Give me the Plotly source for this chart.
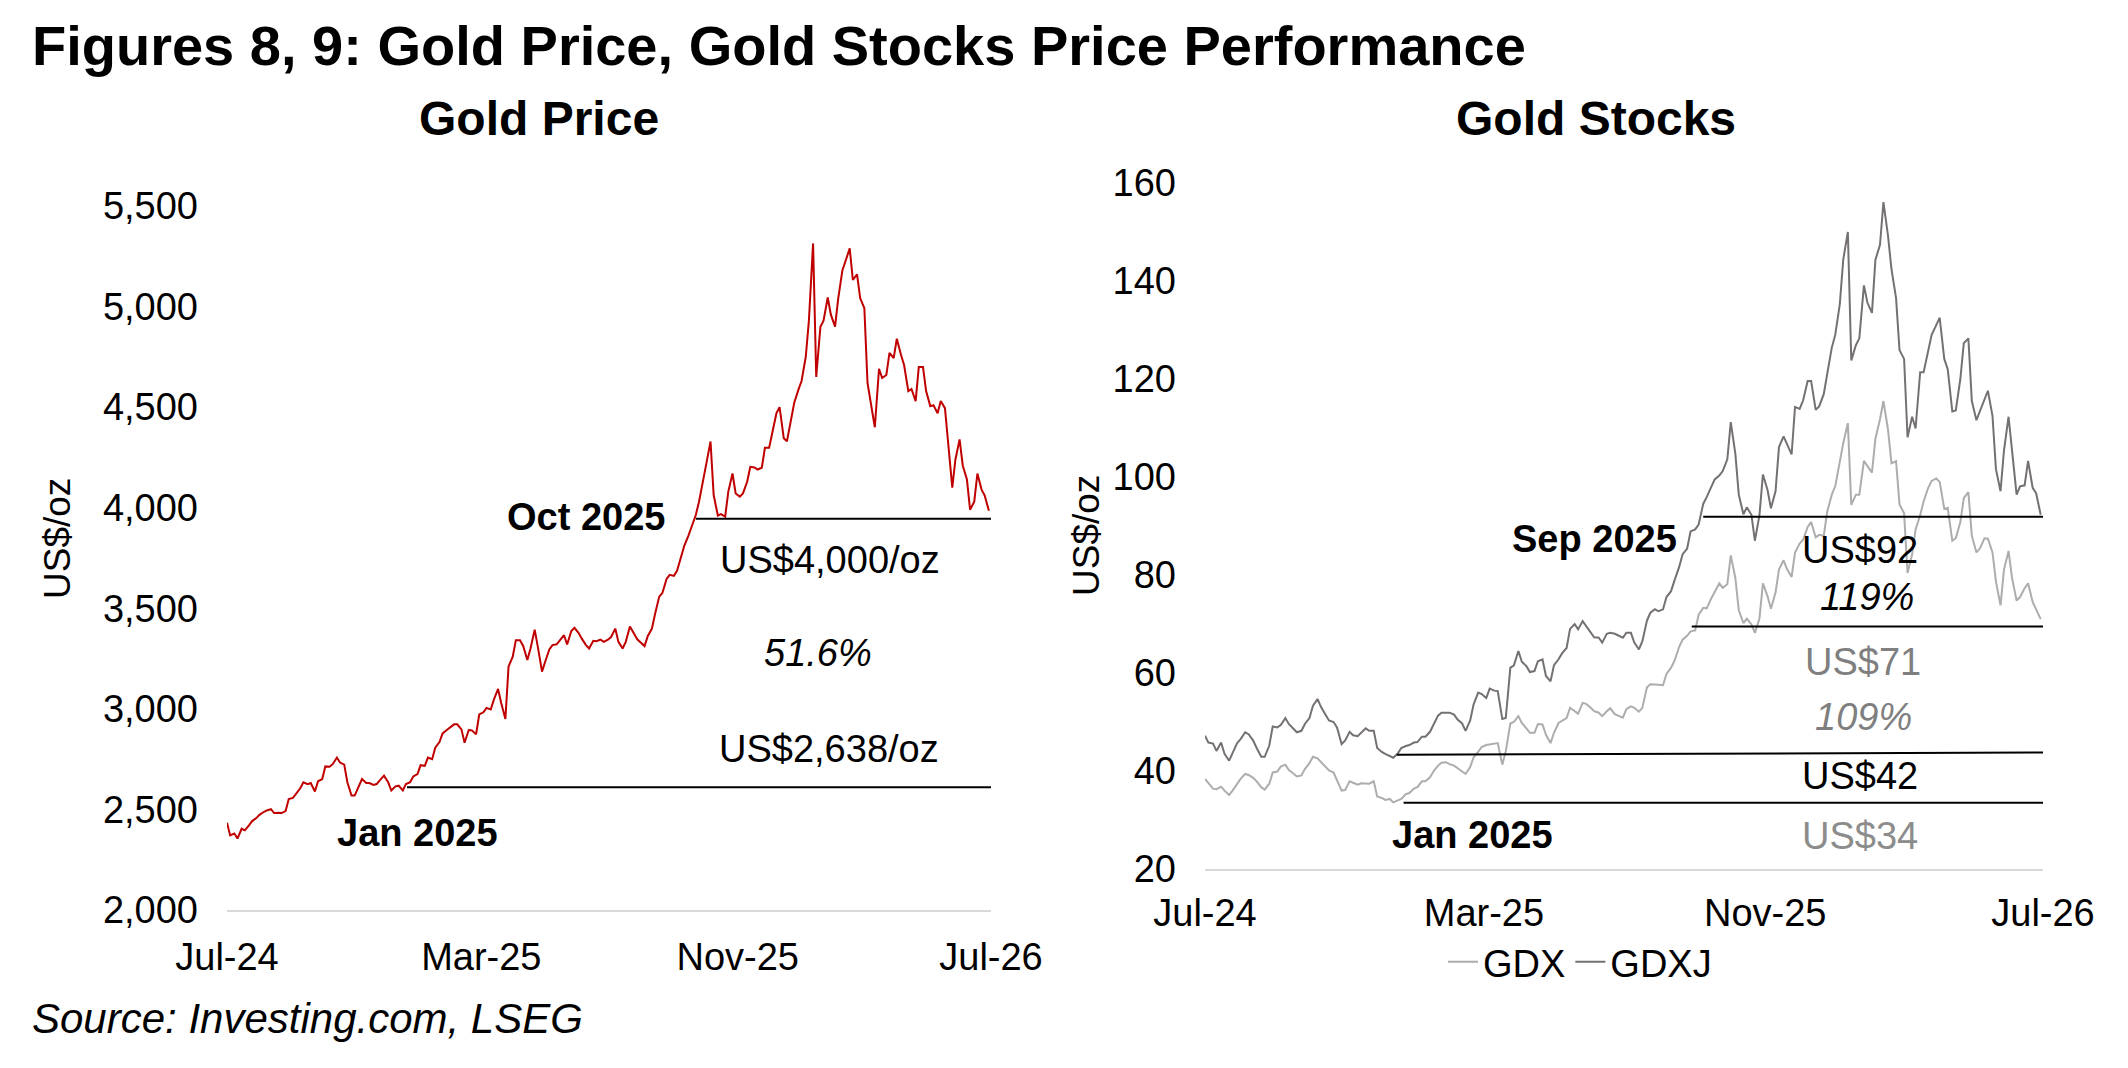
import plotly.graph_objects as go
import pandas as pd

W, H = 2128, 1068
def fx(p): return p / W
def fy(p): return 1 - p / H

FONT = "Liberation Sans, Arial, sans-serif"

# ---- data: twice-weekly readings (Mon / Thu) ----
first_monday = "2024-07-15"
mondays = pd.date_range(first_monday, periods=105, freq="7D")
thursdays = mondays + pd.Timedelta(days=3)
date_grid = sorted(list(mondays) + list(thursdays))

gold = [2434, 2371, 2380, 2355, 2404, 2396, 2421, 2442, 2457, 2473,
        2487, 2495, 2501, 2482, 2483, 2482, 2492, 2552, 2557, 2577,
        2605, 2635, 2626, 2631, 2589, 2640, 2651, 2714, 2712, 2725,
        2758, 2733, 2723, 2635, 2569, 2569, 2615, 2651, 2631, 2631,
        2622, 2626, 2651, 2668, 2635, 2594, 2615, 2618, 2594, 2626,
        2635, 2664, 2676, 2720, 2717, 2758, 2750, 2807, 2835, 2878,
        2895, 2906, 2923, 2923, 2898, 2832, 2895, 2893, 2873, 2972,
        2983, 3005, 2997, 3046, 3099, 3029, 2950, 3210, 3259, 3341,
        3341, 3313, 3243, 3300, 3394, 3308, 3185, 3234, 3295, 3317,
        3321, 3341, 3366, 3320, 3387, 3403, 3377, 3349, 3317, 3300,
        3338, 3336, 3344, 3333, 3344, 3357, 3399, 3333, 3300, 3333,
        3410, 3382, 3346, 3331, 3312, 3361, 3399, 3472, 3558, 3576,
        3646, 3666, 3661, 3686, 3755, 3812, 3863, 3904, 3965, 4030,
        4129, 4219, 4329, 4063, 3961, 3968, 3956, 4080, 4170, 4071,
        4055, 4071, 4129, 4203, 4200, 4190, 4199, 4298, 4298, 4370,
        4470, 4500, 4345, 4330, 4440, 4522, 4587, 4630, 4750, 4930,
        5314, 4650, 4900, 4930, 5045, 4960, 4900, 5040, 5180, 5230,
        5289, 5132, 5160, 5042, 4992, 4620, 4480, 4400, 4690, 4645,
        4660, 4770, 4744, 4840, 4760, 4708, 4580, 4590, 4530, 4700,
        4700, 4580, 4505, 4510, 4470, 4530, 4495, 4340, 4100, 4240,
        4340, 4210, 4140, 3990, 4030, 4170, 4090, 4060, 3985]

gdxj = [47.2, 45.8, 45.6, 44.1, 45.8, 43.5, 42.1, 43.5, 45.7, 46.5,
        47.9, 47.5, 46.2, 44.7, 42.9, 42.9, 45.2, 49.1, 48.9, 49.4,
        50.8, 49.6, 48.6, 47.9, 48.2, 49.6, 50.8, 53.3, 54.7, 53.1,
        51.5, 50.3, 50.0, 48.9, 45.5, 46.2, 48.0, 47.3, 47.1, 47.8,
        48.7, 48.2, 48.2, 44.7, 43.9, 43.5, 43.1, 42.7, 43.6, 44.7,
        45.1, 45.3, 45.8, 45.9, 47.0, 47.0, 48.0, 49.4, 51.3, 51.9,
        51.9, 51.9, 51.5, 50.5, 49.7, 48.2, 50.3, 53.6, 56.0, 55.7,
        54.9, 56.8, 56.4, 56.3, 50.6, 50.8, 61.1, 61.5, 64.5, 62.3,
        61.4, 60.2, 60.4, 62.4, 62.8, 59.4, 58.3, 61.6, 62.8, 64.0,
        65.1, 69.0, 70.0, 68.9, 70.6, 69.6, 68.1, 67.3, 67.2, 66.2,
        68.0, 68.2, 68.0, 67.7, 67.2, 68.2, 68.2, 66.2, 64.8, 66.5,
        70.7, 72.3, 73.0, 72.6, 73.0, 75.5, 76.7, 78.9, 81.6, 84.2,
        85.4, 88.9, 89.3, 90.3, 94.5, 95.9, 98.0, 99.5, 100.3, 101.2,
        103.6, 111.2, 104.7, 96.4, 92.4, 93.8, 92.3, 87.0, 92.2, 100.5,
        97.4, 93.6, 97.1, 106.1, 108.3, 106.7, 104.6, 114.3, 113.9, 115.6,
        119.6, 119.6, 113.7, 114.4, 116.9, 121.0, 126.4, 129.0, 135.3, 144.4,
        150.0, 123.8, 126.9, 128.3, 139.1, 135.6, 133.5, 144.3, 147.4, 156.1,
        149.2, 142.4, 136.5, 125.9, 124.1, 108.1, 112.3, 109.9, 121.4, 121.4,
        125.9, 129.0, 131.0, 132.5, 124.1, 122.0, 113.4, 113.6, 120.0, 127.3,
        128.3, 115.5, 111.6, 113.4, 116.2, 117.6, 112.5, 101.6, 97.1, 105.4,
        112.3, 105.1, 96.4, 98.1, 98.3, 103.3, 97.8, 96.7, 92.3]

gdx = [38.4, 37.6, 36.4, 36.3, 36.8, 36.0, 35.1, 36.0, 37.4, 38.4,
       39.4, 39.2, 38.6, 37.9, 36.7, 36.2, 37.4, 39.7, 39.9, 40.9,
       41.3, 40.2, 39.5, 38.9, 39.1, 40.4, 41.6, 42.9, 42.6, 41.8,
       40.9, 40.1, 39.7, 38.0, 36.0, 36.1, 37.9, 37.6, 37.2, 37.5,
       37.5, 37.4, 37.9, 34.8, 34.5, 34.1, 34.3, 33.6, 34.0, 34.3,
       35.3, 35.5, 36.4, 36.7, 37.9, 37.9, 38.7, 39.9, 41.1, 41.7,
       41.8, 41.4, 41.1, 40.6, 39.9, 39.4, 40.8, 42.8, 43.9, 44.9,
       45.3, 45.4, 45.5, 45.7, 41.3, 44.0, 49.7, 50.0, 51.2, 49.8,
       48.7, 47.8, 47.8, 49.6, 49.5, 47.4, 45.7, 47.8, 49.8, 50.3,
       50.8, 52.9, 52.2, 51.7, 53.9, 53.7, 52.9, 52.2, 51.9, 51.2,
       52.2, 52.8, 51.6, 51.3, 50.9, 52.6, 53.2, 52.9, 52.1, 52.9,
       57.1, 57.7, 57.7, 57.6, 57.5, 59.8, 61.1, 62.5, 65.3, 66.8,
       67.6, 68.5, 68.7, 71.9, 73.3, 73.2, 75.2, 76.6, 78.3, 77.4,
       78.1, 84.0, 79.4, 72.8, 70.2, 71.1, 69.9, 68.2, 71.1, 78.3,
       75.7, 73.1, 76.4, 81.1, 83.0, 81.2, 79.6, 84.6, 86.4, 87.2,
       89.8, 90.8, 87.7, 88.2, 88.0, 92.9, 96.4, 98.1, 103.2, 106.9,
       111.0, 94.3, 96.4, 96.4, 103.3, 102.3, 100.9, 107.8, 111.8, 115.5,
       109.6, 102.8, 103.2, 94.4, 92.6, 80.4, 84.2, 89.3, 92.2, 95.0,
       97.8, 99.2, 99.7, 99.0, 93.5, 93.7, 87.0, 87.5, 90.8, 95.7,
       96.9, 88.0, 84.6, 85.4, 87.5, 87.4, 84.6, 78.7, 73.8, 81.1,
       84.9, 79.4, 74.8, 75.5, 77.3, 78.3, 74.5, 73.0, 71.0]

x_ticks = ["2024-07-15", "2025-03-15", "2025-11-15", "2026-07-15"]
x_tick_labels = ["Jul-24", "Mar-25", "Nov-25", "Jul-26"]
x_range = ["2024-07-15", "2026-07-15"]
gold_ticks = [2000, 2500, 3000, 3500, 4000, 4500, 5000, 5500]
stock_ticks = [20, 40, 60, 80, 100, 120, 140, 160]

# reference levels drawn on the charts
gold_levels = [("2025-10-06", 3945), ("2025-01-03", 2610)]
stock_levels = [("2025-09-22", 91.9, 91.9), ("2025-09-12", 69.5, 69.5),
                ("2024-12-29", 43.3, 43.8), ("2025-01-04", 33.5, 33.5)]

fig = go.Figure()
fig.add_trace(go.Scatter(x=date_grid[:len(gold)], y=gold, mode="lines", showlegend=False,
                         line=dict(color="#C00000", width=2), xaxis="x", yaxis="y"))
fig.add_trace(go.Scatter(x=date_grid[:len(gdx)], y=gdx, mode="lines", name="GDX",
                         line=dict(color="#ADADAD", width=2), xaxis="x2", yaxis="y2"))
fig.add_trace(go.Scatter(x=date_grid[:len(gdxj)], y=gdxj, mode="lines", name="GDXJ",
                         line=dict(color="#767171", width=2), xaxis="x2", yaxis="y2"))

tickfont = dict(family=FONT, size=38, color="black")
xcommon = dict(type="date", range=x_range, tickvals=x_ticks, ticktext=x_tick_labels,
               showline=True, linecolor="#D9D9D9", linewidth=2, showgrid=False,
               zeroline=False, ticks="", tickfont=tickfont,
               fixedrange=True, automargin=False)
ycommon = dict(showgrid=False, showline=False, zeroline=False, ticks="",
               tickfont=tickfont, ticklabelstandoff=28, fixedrange=True,
               automargin=False)

fig.update_layout(
    template="none",
    width=W, height=H, margin=dict(l=0, r=0, t=0, b=0, pad=0, autoexpand=False),
    paper_bgcolor="white", plot_bgcolor="white",
    font=dict(family=FONT, color="black"),
    xaxis=dict(domain=[fx(227), fx(991)], anchor="y", ticklabelstandoff=12, **xcommon),
    yaxis=dict(domain=[fy(910), fy(206)], anchor="x", range=[2000, 5500],
               tickvals=gold_ticks, tickformat=",", **ycommon),
    xaxis2=dict(domain=[fx(1205), fx(2043)], anchor="y2", ticklabelstandoff=9, **xcommon),
    yaxis2=dict(domain=[fy(869), fy(183)], anchor="x2", range=[20, 160],
                tickvals=stock_ticks, **ycommon),
    legend=dict(orientation="h", x=fx(1580), xanchor="center", y=fy(962),
                yanchor="middle", font=dict(family=FONT, size=38, color="black"),
                bgcolor="rgba(0,0,0,0)", itemwidth=30),
)

shapes = []
for x0, yv in gold_levels:
    shapes.append(dict(type="line", xref="x", yref="y", x0=x0, x1=x_range[1],
                       y0=yv, y1=yv, line=dict(color="black", width=2)))
for x0, y0, y1 in stock_levels:
    shapes.append(dict(type="line", xref="x2", yref="y2", x0=x0, x1=x_range[1],
                       y0=y0, y1=y1, line=dict(color="black", width=2)))
fig.update_layout(shapes=shapes)

def ann(text, x, y, size=38, bold=False, italic=False, color="black",
        xanchor="center", angle=0):
    t = text
    if bold:
        t = "<b>" + t + "</b>"
    if italic:
        t = "<i>" + t + "</i>"
    fig.add_annotation(text=t, x=fx(x), y=fy(y), xref="paper", yref="paper",
                       xanchor=xanchor, yanchor="middle", showarrow=False,
                       textangle=angle,
                       font=dict(family=FONT, size=size, color=color))

ann("Figures 8, 9: Gold Price, Gold Stocks Price Performance", 30, 45, size=56,
    bold=True, xanchor="left")
ann("Gold Price", 539, 118, size=48, bold=True)
ann("Gold Stocks", 1596, 118, size=48, bold=True)
ann("US$/oz", 57, 539, size=37, angle=-90)
ann("US$/oz", 1086, 536, size=37, angle=-90)

ann("Oct 2025", 586, 517, bold=True)
ann("US$4,000/oz", 830, 560)
ann("51.6%", 818, 653, italic=True)
ann("US$2,638/oz", 829, 749)
ann("Jan 2025", 417, 833, bold=True)

ann("Sep 2025", 1594, 539, bold=True)
ann("US$92", 1860, 550)
ann("119%", 1867, 597, italic=True)
ann("US$71", 1863, 662, color="#7F7F7F")
ann("109%", 1863, 717, italic=True, color="#7F7F7F")
ann("US$42", 1860, 776)
ann("US$34", 1860, 836, color="#8C8C8C")
ann("Jan 2025", 1472, 835, bold=True)

ann("Source: Investing.com, LSEG", 30, 1018, size=42, italic=True, xanchor="left")

fig.write_html("out.html")
